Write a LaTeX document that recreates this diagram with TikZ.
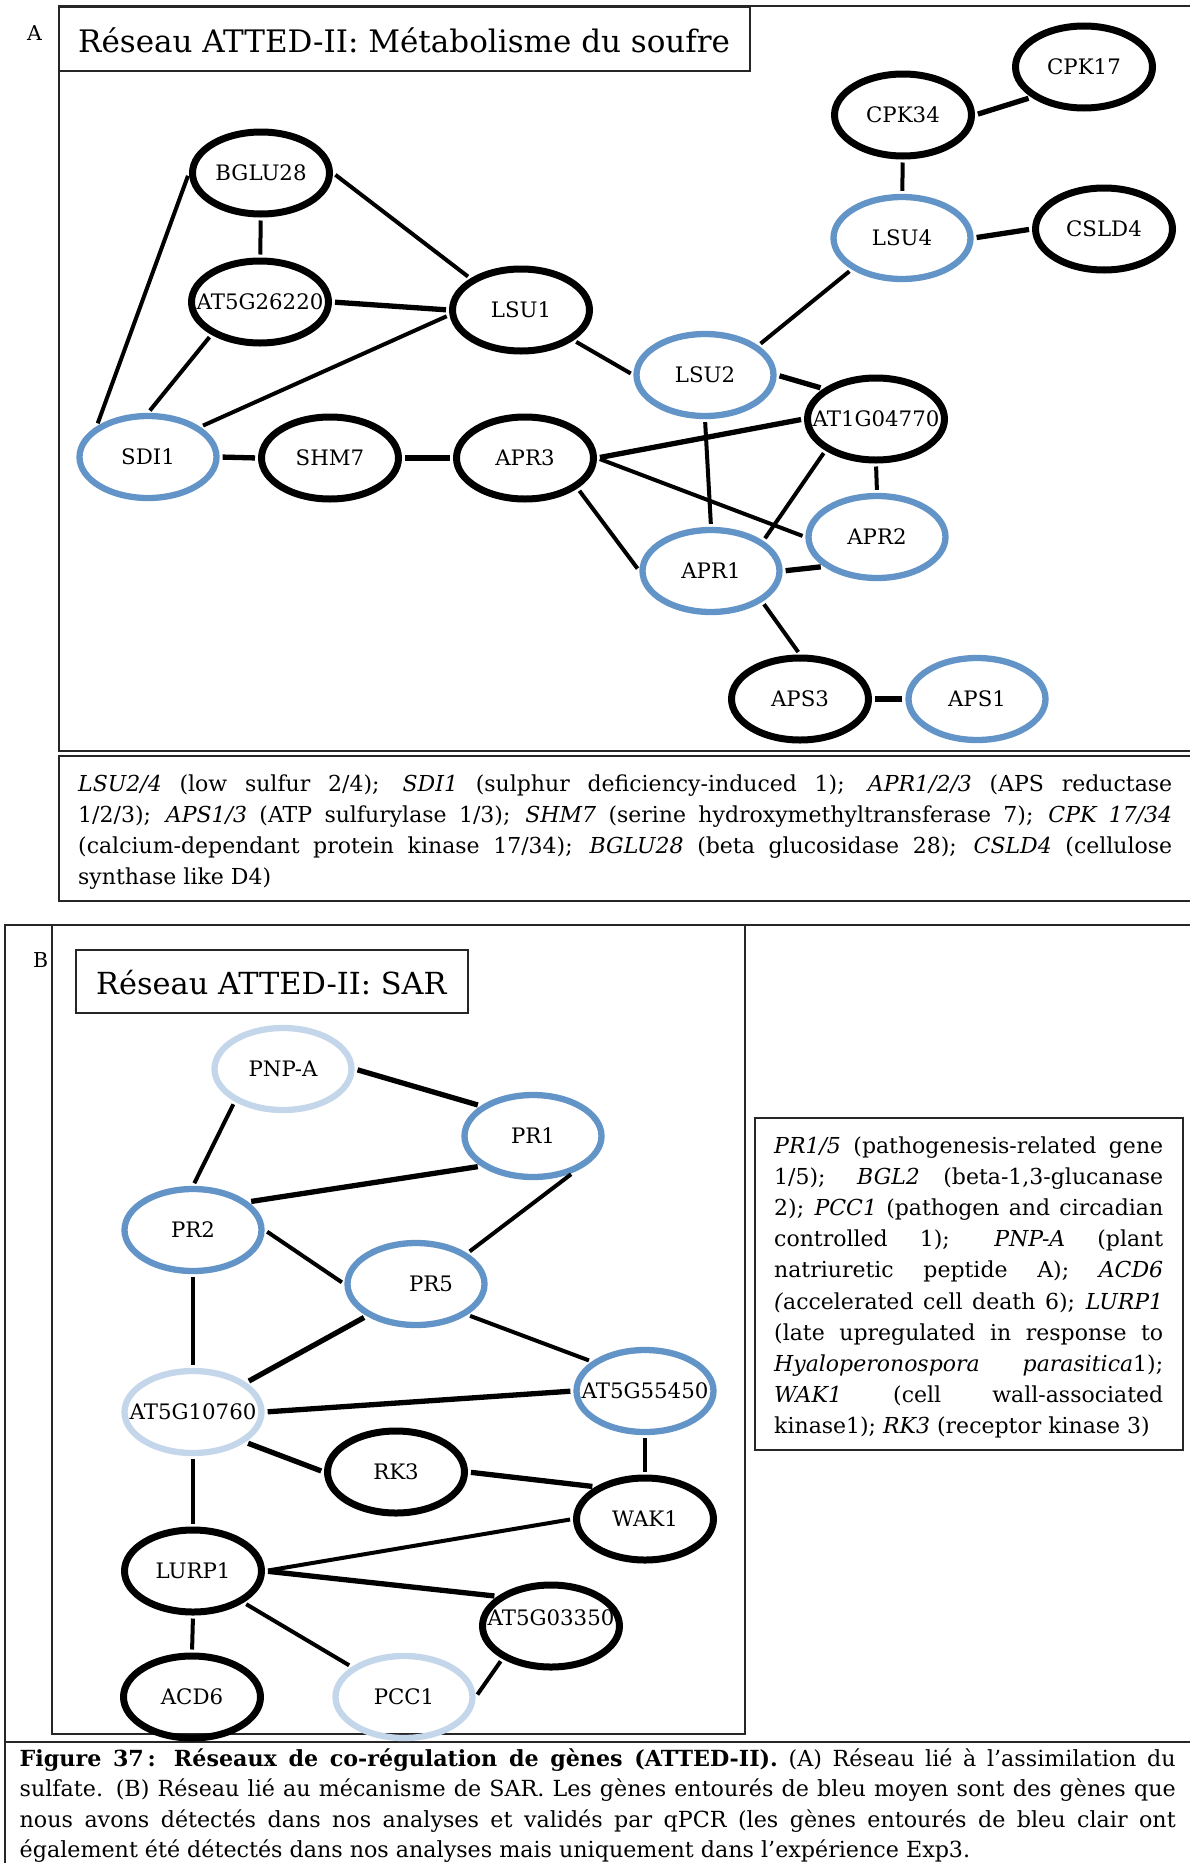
\documentclass[tikz,border=0pt]{standalone}
\usepackage{fontspec}
\setmainfont{DejaVu Serif}
\usetikzlibrary{shapes.geometric}
\definecolor{validblue}{RGB}{98,148,199}
\definecolor{exp3blue}{RGB}{196,214,234}
\newcommand{\genename}[1]{\makebox[0pt]{#1}}
\tikzset{
  gene/.style={
    draw,
    ellipse,
    line width=7pt,
    minimum width=137pt,
    minimum height=82pt,
    inner sep=0pt,
    font=\fontsize{21.3}{24}\selectfont
  },
  validated/.style={
    gene,
    draw=validblue,
    line width=6.3pt
  },
  exp3only/.style={
    gene,
    draw=exp3blue,
    line width=6.3pt
  },
  link/.style={
    line width=4pt,
    shorten <=3pt,
    shorten >=3pt
  },
  strong/.style={
    link,
    line width=5.3pt
  },
  panelframe/.style={
    draw=black!85,
    line width=2pt
  },
  paneltitle/.style={
    anchor=base west,
    inner sep=0pt
  },
  genelegend/.style={
    anchor=north west,
    inner sep=0pt,
    align=justify,
    font=\fontsize{22}{31.2}\selectfont,
    execute at begin node={\tolerance=10000\hyphenpenalty=10000\exhyphenpenalty=10000}
  }
}

\begin{document}
\begin{tikzpicture}[x=1pt,y=-1pt]
\useasboundingbox (0,0) rectangle (1190,1863);

% panel A
\draw[panelframe] (1195,6) -- (59,6) -- (59,751) -- (1195,751);
\draw[panelframe] (59,7) rectangle (750,71);
\draw[panelframe] (1195,756) -- (59,756) -- (59,901) -- (1195,901);
\node[paneltitle, font=\fontsize{20.5}{24}\selectfont] (tagA) at (27,40) {A};
\node[paneltitle, font=\fontsize{31}{36}\selectfont] (titleA) at (78,52) {Réseau ATTED-II: Métabolisme du soufre};

\node[gene] (cpk17) at (1084,67) {\genename{CPK17}};
\node[gene] (cpk34) at (903,115) {\genename{CPK34}};
\node[validated] (lsu4) at (902,238) {\genename{LSU4}};
\node[gene] (csld4) at (1104,229) {\genename{CSLD4}};
\node[gene] (bglu28) at (261,173) {\genename{BGLU28}};
\node[gene] (at5g26220) at (260,302) {\genename{AT5G26220}};
\node[gene] (lsu1) at (521,310) {\genename{LSU1}};
\node[validated] (lsu2) at (705,375) {\genename{LSU2}};
\node[gene] (at1g04770) at (876,419) {\genename{AT1G04770}};
\node[validated] (sdi1) at (148,457) {\genename{SDI1}};
\node[gene] (shm7) at (330,458) {\genename{SHM7}};
\node[gene] (apr3) at (525,458) {\genename{APR3}};
\node[validated] (apr2) at (877,537) {\genename{APR2}};
\node[validated] (apr1) at (711,571) {\genename{APR1}};
\node[gene] (aps3) at (800,699) {\genename{APS3}};
\node[validated] (aps1) at (977,699) {\genename{APS1}};

\draw[strong] (cpk34.east) -- (cpk17.210);
\draw[link] (cpk34) -- (lsu4);
\draw[strong] (lsu4.east) -- (csld4.west);
\draw[link] (lsu4.212) -- (lsu2.29);
\draw[link] (bglu28) -- (at5g26220);
\draw[link] (bglu28.east) -- (lsu1.148);
\draw[link] (bglu28.west) -- (sdi1.149);
\draw[strong] (at5g26220.east) -- (lsu1.west);
\draw[link] (at5g26220.214) -- (sdi1.north);
\draw[link] (lsu1.184) -- (sdi1.30);
\draw[link] (lsu1.330) -- (lsu2.west);
\draw[strong] (lsu2.east) -- (at1g04770.150);
\draw[link] (lsu2.south) -- (apr1.north);
\draw[strong] (at1g04770.west) -- (apr3.east);
\draw[link] (at1g04770.212) -- (apr1.30);
\draw[link] (at1g04770.south) -- (apr2.north);
\draw[strong] (sdi1.east) -- (shm7.west);
\draw[strong] (shm7.east) -- (apr3.west);
\draw[link] (apr3.east) -- (apr2.west);
\draw[link] (apr3.330) -- (apr1.west);
\draw[strong] (apr1.east) -- (apr2.209);
\draw[link] (apr1.329) -- (aps3.north);
\draw[strong] (aps3.east) -- (aps1.west);

\node[genelegend, text width=1094pt] (legendA) at (78,769) {\strut\textit{LSU2/4} (low sulfur 2/4); \textit{SDI1} (sulphur deficiency-induced 1); \textit{APR1/2/3} (APS reductase\linebreak 1/2/3); \textit{APS1/3} (ATP sulfurylase 1/3); \textit{SHM7} (serine hydroxymethyltransferase 7); \textit{CPK 17/34}\linebreak (calcium-dependant protein kinase 17/34); \textit{BGLU28} (beta glucosidase 28); \textit{CSLD4} (cellulose\linebreak synthase like D4)};

% panel B
\draw[panelframe] (1195,925) -- (5,925) -- (5,1870);
\draw[panelframe] (52,925) rectangle (745,1734);
\draw[panelframe] (76,950) rectangle (468,1013);
\draw[panelframe] (755,1118) rectangle (1183,1450);
\draw[panelframe] (5,1742) -- (1195,1742);
\node[paneltitle, font=\fontsize{20.5}{24}\selectfont] (tagB) at (33,967) {B};
\node[paneltitle, font=\fontsize{30.4}{36}\selectfont] (titleB) at (96,994) {Réseau ATTED-II: SAR};

\node[exp3only] (pnpa) at (283,1069) {\genename{PNP-A}};
\node[validated] (pr1) at (533,1136) {\genename{PR1}};
\node[validated] (pr2) at (193,1230) {\genename{PR2}};
\node[validated] (pr5) at (416,1284) {\genename{\hspace*{30pt}PR5}};
\node[validated] (at5g55450) at (645,1391) {\genename{AT5G55450}};
\node[exp3only] (at5g10760) at (193,1412) {\genename{AT5G10760}};
\node[gene] (rk3) at (396,1472) {\genename{RK3}};
\node[gene] (wak1) at (645,1519) {\genename{WAK1}};
\node[gene] (lurp1) at (193,1571) {\genename{LURP1}};
\node[gene] (at5g03350) at (551,1626) {\genename{\raisebox{8pt}[\height][\depth]{AT5G03350}}};
\node[gene] (acd6) at (192,1697) {\genename{ACD6}};
\node[exp3only] (pcc1) at (404,1697) {\genename{PCC1}};

\draw[strong] (pnpa.east) -- (pr1.150);
\draw[link] (pnpa.214) -- (pr2.north);
\draw[strong] (pr1.210) -- (pr2.27);
\draw[link] (pr1.318) -- (pr5.31);
\draw[link] (pr2.east) -- (pr5.west);
\draw[link] (pr2.south) -- (at5g10760.north);
\draw[strong] (pr5.213) -- (at5g10760.29);
\draw[link] (pr5.329) -- (at5g55450.151);
\draw[strong] (at5g10760.east) -- (at5g55450.west);
\draw[strong] (at5g10760.330) -- (rk3.west);
\draw[link] (at5g10760.south) -- (lurp1.north);
\draw[link] (at5g55450.south) -- (wak1.north);
\draw[strong] (rk3.east) -- (wak1.147);
\draw[link] (wak1.west) -- (lurp1.east);
\draw[strong] (lurp1.east) -- (at5g03350.151);
\draw[link] (lurp1.328) -- (pcc1.150);
\draw[link] (lurp1.south) -- (acd6.north);
\draw[link] (pcc1.east) -- (at5g03350.214);

\node[genelegend, text width=389pt] (legendB) at (774,1131) {\strut\textit{PR1/5} (pathogenesis-related gene\linebreak 1/5); \textit{BGL2} (beta-1,3-glucanase\linebreak 2); \textit{PCC1} (pathogen and circadian\linebreak controlled 1); \textit{PNP-A} (plant\linebreak natriuretic peptide A); \textit{ACD6}\linebreak \textit{(}accelerated cell death 6); \textit{LURP1}\linebreak (late upregulated in response to\linebreak \textit{Hyaloperonospora parasitica}1);\linebreak \textit{WAK1} (cell wall-associated\linebreak kinase1); \textit{RK3} (receptor kinase 3)};

\node[genelegend, text width=1156pt, font=\fontsize{22.2}{30.5}\selectfont] (caption) at (19.5,1744.5) {\strut\textbf{Figure 37\,: Réseaux de co-régulation de gènes (ATTED-II).} (A) Réseau lié à l’assimilation du\linebreak sulfate. (B) Réseau lié au mécanisme de SAR. Les gènes entourés de bleu moyen sont des gènes que\linebreak nous avons détectés dans nos analyses et validés par qPCR (les gènes entourés de bleu clair ont\linebreak également été détectés dans nos analyses mais uniquement dans l’expérience Exp3.};
\end{tikzpicture}
\end{document}
